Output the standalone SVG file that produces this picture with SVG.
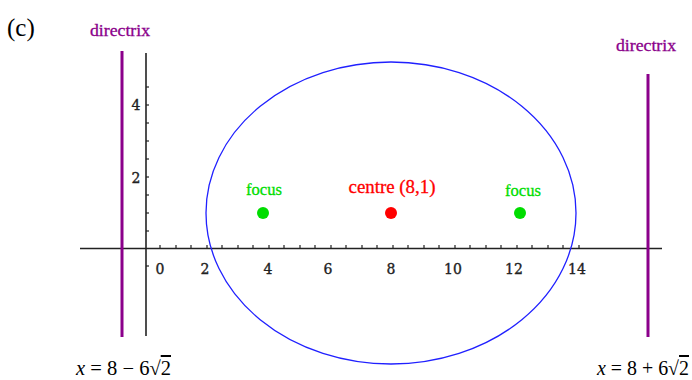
<svg xmlns="http://www.w3.org/2000/svg" width="692" height="380" viewBox="0 0 692 380">
<style>
.ax{stroke:#222;stroke-width:1.6;fill:none}
.tk{stroke:#222;stroke-width:1.2}
.num{font-family:"DejaVu Serif","Liberation Serif",serif;font-size:14px;fill:#222;stroke:#222;stroke-width:0.35;text-anchor:middle}
.dir{stroke:#8B008B;stroke-width:3}
.dl{font-family:"Liberation Serif",serif;font-size:16px;fill:#8B008B;stroke:#8B008B;stroke-width:0.3;text-anchor:middle}
.fl{font-family:"Liberation Serif",serif;font-size:17px;fill:#00DD00;stroke:#00DD00;stroke-width:0.3;text-anchor:middle}
.cl{font-family:"Liberation Serif",serif;font-size:18px;fill:#FF0000;stroke:#FF0000;stroke-width:0.3;text-anchor:middle}
.eq{font-family:"Liberation Serif",serif;font-size:20px;fill:#000}
.ov{text-decoration:overline}
</style>
<rect width="692" height="380" fill="#fff"/>
<text x="7" y="36" font-family="Liberation Serif, serif" font-size="25" fill="#000">(c)</text>
<g id="axes">
<line class="ax" x1="80" y1="248.5" x2="662" y2="248.5"/>
<line class="ax" x1="146" y1="53" x2="146" y2="336"/>
<g id="xticks">
<line class="tk" x1="160" y1="245" x2="160" y2="248"/><line class="tk" x1="176" y1="245" x2="176" y2="248"/><line class="tk" x1="191" y1="245" x2="191" y2="248"/><line class="tk" x1="207" y1="245" x2="207" y2="248"/><line class="tk" x1="222" y1="245" x2="222" y2="248"/><line class="tk" x1="238" y1="245" x2="238" y2="248"/><line class="tk" x1="253" y1="245" x2="253" y2="248"/><line class="tk" x1="269" y1="245" x2="269" y2="248"/><line class="tk" x1="284" y1="245" x2="284" y2="248"/><line class="tk" x1="300" y1="245" x2="300" y2="248"/><line class="tk" x1="315" y1="245" x2="315" y2="248"/><line class="tk" x1="331" y1="245" x2="331" y2="248"/><line class="tk" x1="346" y1="245" x2="346" y2="248"/><line class="tk" x1="362" y1="245" x2="362" y2="248"/><line class="tk" x1="377" y1="245" x2="377" y2="248"/><line class="tk" x1="393" y1="245" x2="393" y2="248"/><line class="tk" x1="408" y1="245" x2="408" y2="248"/><line class="tk" x1="424" y1="245" x2="424" y2="248"/><line class="tk" x1="439" y1="245" x2="439" y2="248"/><line class="tk" x1="455" y1="245" x2="455" y2="248"/><line class="tk" x1="470" y1="245" x2="470" y2="248"/><line class="tk" x1="486" y1="245" x2="486" y2="248"/><line class="tk" x1="501" y1="245" x2="501" y2="248"/><line class="tk" x1="517" y1="245" x2="517" y2="248"/><line class="tk" x1="532" y1="245" x2="532" y2="248"/><line class="tk" x1="548" y1="245" x2="548" y2="248"/><line class="tk" x1="563" y1="245" x2="563" y2="248"/><line class="tk" x1="579" y1="245" x2="579" y2="248"/>
</g>
<g id="yticks">
<line class="tk" x1="146" y1="87" x2="149" y2="87"/><line class="tk" x1="146" y1="105" x2="149" y2="105"/><line class="tk" x1="146" y1="123" x2="149" y2="123"/><line class="tk" x1="146" y1="141" x2="149" y2="141"/><line class="tk" x1="146" y1="159" x2="149" y2="159"/><line class="tk" x1="146" y1="177" x2="149" y2="177"/><line class="tk" x1="146" y1="195" x2="149" y2="195"/><line class="tk" x1="146" y1="213" x2="149" y2="213"/><line class="tk" x1="146" y1="231" x2="149" y2="231"/><line class="tk" x1="146" y1="266" x2="149" y2="266"/>
</g>
<text class="num" x="160" y="274">0</text>
<text class="num" x="205" y="274">2</text>
<text class="num" x="268" y="274">4</text>
<text class="num" x="328" y="274">6</text>
<text class="num" x="391" y="274">8</text>
<text class="num" x="453" y="274">10</text>
<text class="num" x="514" y="274">12</text>
<text class="num" x="577" y="274">14</text>
<text class="num" x="136" y="110">4</text>
<text class="num" x="136" y="183">2</text>
</g>
<g id="ellipse">
<ellipse cx="391" cy="213" rx="185" ry="151" fill="none" stroke="#2020FF" stroke-width="1.3"/>
</g>
<g id="directrix-left">
<line class="dir" x1="122" y1="51" x2="122" y2="337"/>
<text class="dl" x="120" y="36" textLength="60" lengthAdjust="spacingAndGlyphs">directrix</text>
</g>
<g id="directrix-right">
<line class="dir" x1="648" y1="74" x2="648" y2="337"/>
<text class="dl" x="646" y="51" textLength="60" lengthAdjust="spacingAndGlyphs">directrix</text>
</g>
<g id="focus-left">
<circle cx="263" cy="213" r="6" fill="#00DD00"/>
<text class="fl" x="264" y="195" textLength="36" lengthAdjust="spacingAndGlyphs">focus</text>
</g>
<g id="centre">
<circle cx="391" cy="213" r="6" fill="#FF0000"/>
<text class="cl" x="392" y="193" textLength="87" lengthAdjust="spacingAndGlyphs">centre (8,1)</text>
</g>
<g id="focus-right">
<circle cx="520" cy="213" r="6" fill="#00DD00"/>
<text class="fl" x="523" y="196" textLength="36" lengthAdjust="spacingAndGlyphs">focus</text>
</g>
<text class="eq" x="76" y="375" textLength="95" lengthAdjust="spacingAndGlyphs"><tspan font-style="italic">x</tspan> = 8 − 6√<tspan class="ov">2</tspan></text>
<text class="eq" x="597" y="375" textLength="92" lengthAdjust="spacingAndGlyphs"><tspan font-style="italic">x</tspan> = 8 + 6√<tspan class="ov">2</tspan></text>
</svg>
